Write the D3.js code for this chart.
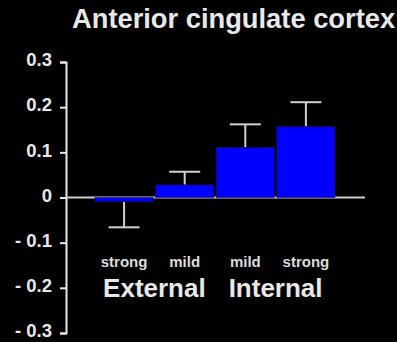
<!DOCTYPE html>
<html><head><meta charset="utf-8">
<script src="https://cdn.jsdelivr.net/npm/d3@7"></script>
<style>html,body{margin:0;padding:0;background:#000;}svg{display:block;}</style>
</head><body>
<svg id="c" width="397" height="342"></svg>
<script>
const categories = ["strong", "mild", "mild", "strong"];
const groups = ["External", "Internal"];
const groupOf = [0, 0, 1, 1];
const means = [-0.009, 0.028, 0.111, 0.157];
const errors = [0.057, 0.029, 0.051, 0.054];
const tickValues = [0.3, 0.2, 0.1, 0, -0.1, -0.2, -0.3];
const tickLabels = ["0.3", "0.2", "0.1", "0", "- 0.1", "- 0.2", "- 0.3"];
const title = "Anterior cingulate cortex";

const svg = d3.select("#c");
const FONT = "'Liberation Sans', Arial, sans-serif";
const fg = "#e8e8e8";

const y = d3.scaleLinear().domain([-0.3, 0.3]).range([333, 62]);
const x = d3.scaleBand().domain(d3.range(categories.length)).range([95, 335]).paddingInner(0.04).paddingOuter(0);

// title
svg.append("text").attr("x", 72).attr("y", 28).attr("fill", fg)
  .attr("font-family", FONT).attr("font-weight", "bold").attr("font-size", 27.3)
  .text(title);

// y axis
const axis = d3.axisLeft(y).tickValues(tickValues).tickSize(6).tickSizeOuter(6)
  .tickFormat((d, i) => tickLabels[i]).tickPadding(8);
const ag = svg.append("g").attr("transform", "translate(66,0)").call(axis);
ag.selectAll("path,line").attr("stroke", fg).attr("stroke-width", 2);
ag.selectAll("text").attr("fill", fg).attr("font-family", FONT)
  .attr("font-weight", "bold").attr("font-size", 18.5).attr("dy", "0.2em");

// zero line
svg.append("line").attr("x1", 66).attr("x2", 365).attr("y1", y(0)).attr("y2", y(0))
  .attr("stroke", "#cfcfcf").attr("stroke-width", 2);

// error bars
const eg = svg.append("g");
means.forEach((m, i) => {
  const cx = x(i) + x.bandwidth() / 2;
  const end = m >= 0 ? m + errors[i] : m - errors[i];
  eg.append("line").attr("x1", cx).attr("x2", cx).attr("y1", y(m)).attr("y2", y(end))
    .attr("stroke", "#d0d0d0").attr("stroke-width", 2);
  eg.append("line").attr("x1", cx - 15.5).attr("x2", cx + 15.5).attr("y1", y(end)).attr("y2", y(end))
    .attr("stroke", "#d0d0d0").attr("stroke-width", 2);
});

// bars
svg.append("g").selectAll("rect").data(means).join("rect")
  .attr("x", (d, i) => x(i)).attr("width", x.bandwidth())
  .attr("y", d => y(Math.max(0, d))).attr("height", d => Math.abs(y(d) - y(0)))
  .attr("fill", "#0000ff").attr("stroke", "#1a0a4a").attr("stroke-width", 0.6);

// category labels
svg.append("g").selectAll("text").data(categories).join("text")
  .attr("x", (d, i) => x(i) + x.bandwidth() / 2).attr("y", 267)
  .attr("text-anchor", "middle").attr("fill", "#dcdcdc")
  .attr("font-family", FONT).attr("font-weight", "bold").attr("font-size", 15)
  .text(d => d);

// group labels
svg.append("g").selectAll("text").data(groups).join("text")
  .attr("x", (d, gi) => {
    const idx = groupOf.map((g, i) => g === gi ? i : -1).filter(v => v >= 0);
    return (x(idx[0]) + x(idx[idx.length - 1]) + x.bandwidth()) / 2;
  })
  .attr("y", 297).attr("text-anchor", "middle").attr("fill", fg)
  .attr("font-family", FONT).attr("font-weight", "bold").attr("font-size", 26)
  .text(d => d);
</script>
</body></html>
